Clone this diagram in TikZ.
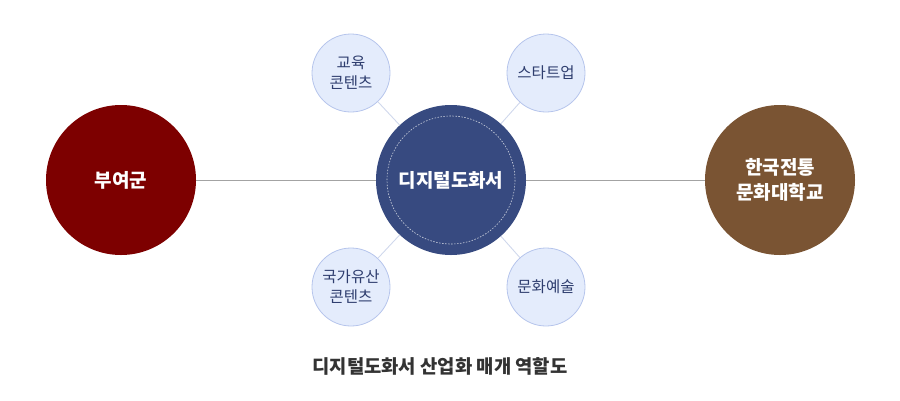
\documentclass[tikz,border=0pt]{standalone}
\usepackage{fontspec}
\setmainfont{Noto Sans CJK KR}
\usetikzlibrary{positioning}
\definecolor{buyeored}{HTML}{7D0000}
\definecolor{knuchbrown}{HTML}{7A5433}
\definecolor{dohwanavy}{HTML}{374A80}
\definecolor{subfill}{HTML}{E4ECFC}
\definecolor{subline}{HTML}{B6C5EC}
\definecolor{subtext}{HTML}{2E3D6E}
\definecolor{linkgray}{HTML}{A3A3A3}
\definecolor{linkblue}{HTML}{D0D8EC}
\tikzset{
	bigcircle/.style={circle, minimum size=150pt, inner sep=0pt, text=white, align=center,
		font=\fontsize{19}{25}\selectfont\bfseries},
	subcircle/.style={circle, draw=subline, fill=subfill, line width=0.8pt, minimum size=78pt,
		inner sep=0pt, text=subtext, align=center, font=\fontsize{15.5}{20}\selectfont},
	mainlink/.style={draw=linkgray, line width=0.9pt},
	sublink/.style={draw=linkblue, line width=0.9pt}
}
\begin{document}
\begin{tikzpicture}[x=1pt, y=-1pt]
			%%%%% START %%%%%
			
			\useasboundingbox (0, 0) rectangle (900, 400);
			
			\node[bigcircle, fill=buyeored] (buyeo) at (121, 180) {부여군};
			\node[bigcircle, fill=dohwanavy] (dohwa) at (451, 180) {디지털도화서};
			\node[bigcircle, fill=knuchbrown] (knuch) at (780, 180) {한국전통\\문화대학교};
			
			\draw[white!75!dohwanavy, dash pattern=on 1.5pt off 1.5pt, line width=0.6pt] (dohwa.center) circle (64);
			
			\node[subcircle] (edu) at (351, 73) {교육\\콘텐츠};
			\node[subcircle] (startup) at (546, 73) {스타트업};
			\node[subcircle] (heritage) at (351, 287) {국가유산\\콘텐츠};
			\node[subcircle] (arts) at (546, 287) {문화예술};
			
			\path[mainlink] (buyeo) -- (dohwa);
			\path[mainlink] (dohwa) -- (knuch);
			\path[sublink] (dohwa) -- (edu);
			\path[sublink] (dohwa) -- (startup);
			\path[sublink] (dohwa) -- (heritage);
			\path[sublink] (dohwa) -- (arts);
			
			\node[text=black!80, font=\fontsize{18.8}{22}\selectfont\bfseries] (caption) at (440, 366) {디지털도화서 산업화 매개 역할도};
			
			%%%%% END %%%%%
\end{tikzpicture}
\end{document}
